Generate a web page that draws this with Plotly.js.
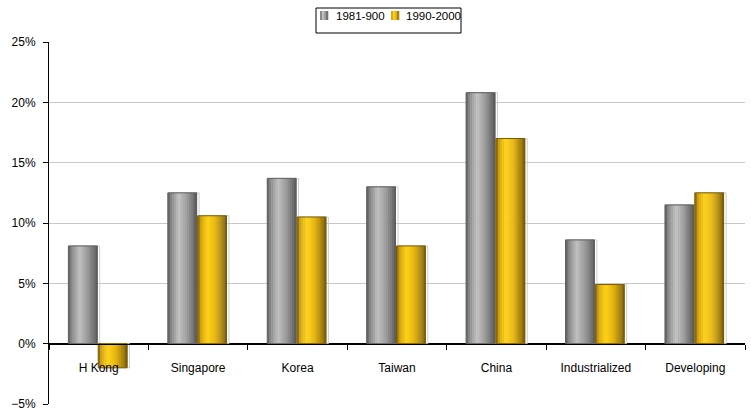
<!DOCTYPE html>
<html><head><meta charset="utf-8">
<script src="https://cdn.plot.ly/plotly-3.0.1.min.js"></script>
<style>html,body{margin:0;padding:0;background:#fff}#chart{width:751px;height:416px}</style>
</head><body><div id="chart"></div>
<script>
const categories = ['H Kong','Singapore','Korea','Taiwan','China','Industrialized','Developing'];
const series1Name = '1981-900';
const series1 = [8.1, 12.5, 13.7, 13.0, 20.8, 8.6, 11.5];
const series2Name = '1990-2000';
const series2 = [-2.0, 10.6, 10.5, 8.1, 17.0, 4.9, 12.5];

function hex(c){return [parseInt(c.slice(1,3),16),parseInt(c.slice(3,5),16),parseInt(c.slice(5,7),16)];}
function interp(stops,t){
  for(let i=0;i<stops.length-1;i++){
    const [t0,c0]=stops[i],[t1,c1]=stops[i+1];
    if(t>=t0&&t<=t1){const f=(t-t0)/(t1-t0);const a=hex(c0),b=hex(c1);
      return 'rgb('+a.map((v,k)=>Math.round(v+(b[k]-v)*f)).join(',')+')';}
  }
  return stops[stops.length-1][1];
}
const grayStops=[[0,'#5a5a5a'],[0.12,'#8a8a8a'],[0.38,'#c0c0c0'],[0.65,'#9c9c9c'],[0.9,'#6e6e6e'],[1,'#555555']];
const goldStops=[[0,'#7a5c08'],[0.12,'#d8a812'],[0.35,'#ffd216'],[0.62,'#e4b412'],[0.9,'#9a7a10'],[1,'#6e5508']];

const traces=[];
function addBar(vals,name,offset,width,stops,edge){
  traces.push({type:'bar',x:categories,y:vals,offset:offset+0.025,width:width,
    marker:{color:'rgba(0,0,0,0)',line:{color:'#cfcfcf',width:1}},showlegend:false,hoverinfo:'skip'});
  const n=14;
  for(let i=0;i<n;i++){
    const t=(i+0.5)/n;
    traces.push({type:'bar',x:categories,y:vals,offset:offset+width*i/n,width:width/n+0.004,
      marker:{color:interp(stops,t),line:{width:0}},name:name,showlegend:false,hoverinfo:'skip'});
  }
  traces.push({type:'bar',x:categories,y:vals,offset:offset,width:width,
    marker:{color:'rgba(0,0,0,0)',line:{color:edge,width:1}},showlegend:false,hoverinfo:'skip'});
}
addBar(series1,series1Name,-0.305,0.29,grayStops,'#5f5f5f');
addBar(series2,series2Name,-0.005,0.29,goldStops,'#7a5c08');

// Legend drawn with shapes + annotations (pixel -> paper helpers)
const L=49,W=696,B=404,H=362;
const px=v=>(v-L)/W, py=v=>(B-v)/H;
const shapes=[{type:'rect',xref:'paper',yref:'paper',x0:px(316),x1:px(461),y0:py(33),y1:py(8),
  line:{color:'#000',width:1},fillcolor:'#fff',layer:'above'}];
function legendSwatch(x0,stops){
  const n=4,w=8;
  for(let i=0;i<n;i++){
    shapes.push({type:'rect',xref:'paper',yref:'paper',x0:px(x0+w*i/n),x1:px(x0+w*(i+1)/n+0.3),
      y0:py(20),y1:py(11),line:{width:0},fillcolor:interp(stops,(i+0.5)/n),layer:'above'});
  }
}
legendSwatch(320,grayStops);
legendSwatch(391,goldStops);
const annotations=[
  {xref:'paper',yref:'paper',x:px(334),y:py(16),xanchor:'left',yanchor:'middle',text:series1Name,showarrow:false,font:{size:11.5}},
  {xref:'paper',yref:'paper',x:px(404),y:py(16),xanchor:'left',yanchor:'middle',text:series2Name,showarrow:false,font:{size:11.5}}
];

const layout={
  width:751,height:416,
  margin:{l:49,r:6,t:42,b:12},
  paper_bgcolor:'#fff',plot_bgcolor:'#fff',
  barmode:'overlay',
  font:{family:'Arial, Liberation Sans, sans-serif',size:12,color:'#000'},
  showlegend:false,
  shapes:shapes,annotations:annotations,
  xaxis:{type:'category',anchor:'free',position:1/6,showline:true,linecolor:'#000',linewidth:1,
    ticks:'outside',ticklen:5,tickcolor:'#000',tickson:'boundaries',showgrid:false,
    ticklabelstandoff:13,automargin:false,fixedrange:true,tickfont:{size:12}},
  yaxis:{range:[-5,25],dtick:5,ticksuffix:'%',showline:true,linecolor:'#000',linewidth:1,
    ticks:'outside',ticklen:5,tickcolor:'#000',showgrid:true,gridcolor:'#c8c8c8',gridwidth:1,
    ticklabelstandoff:5,
    zeroline:true,zerolinecolor:'#000',zerolinewidth:1,automargin:false,fixedrange:true,tickfont:{size:12}}
};
Plotly.newPlot('chart',traces,layout,{displayModeBar:false,staticPlot:true});
</script></body></html>
